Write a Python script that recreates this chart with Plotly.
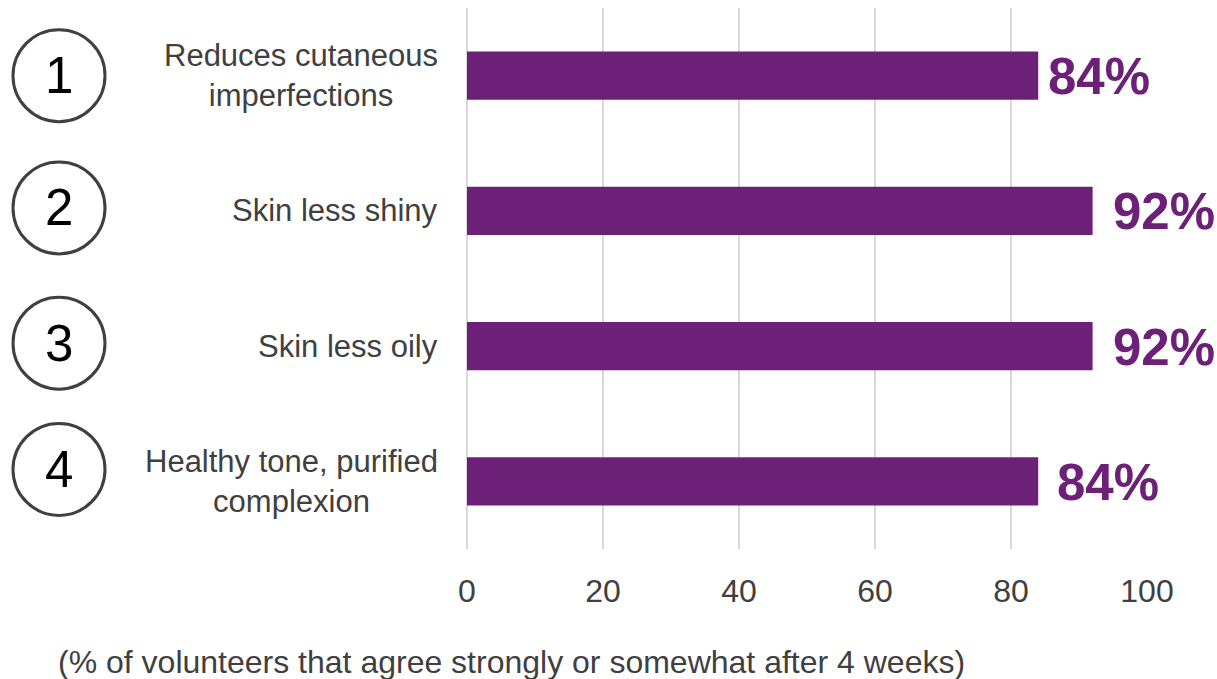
import plotly.graph_objects as go

categories = ["Reduces cutaneous<br>imperfections", "Skin less shiny", "Skin less oily",
              "Healthy tone, purified<br>complexion"]
numbers = ["1", "2", "3", "4"]
values = [84, 92, 92, 84]
x_ticks = [0, 20, 40, 60, 80, 100]
caption = "(% of volunteers that agree strongly or somewhat after 4 weeks)"

PURPLE = "#6C2077"
GREY_TXT = "#404040"
FONT = "Liberation Sans, Arial, sans-serif"

W, H = 1217, 679
L, R, T, B = 467, 70, 8, 130
plot_w = W - L - R
plot_h = H - T - B

def px_to_paper_x(px):
    return (px - L) / plot_w

def px_to_paper_y(py):
    return (H - B - py) / plot_h

fig = go.Figure()
fig.add_trace(go.Bar(
    x=values, y=categories, orientation="h",
    marker=dict(color=PURPLE, line=dict(width=0)),
    hoverinfo="skip", showlegend=False,
))

annotations = []
shapes = []
label_shifts = [8, 18, 18, 17]
circle_yshift = [0, 3, 3, 12]
for i, (cat, num, val) in enumerate(zip(categories, numbers, values)):
    # value label
    annotations.append(dict(
        x=val, y=cat, xref="x", yref="y", xanchor="left", yanchor="middle",
        xshift=label_shifts[i], yshift=-1, text=f"<b>{val}%</b>", showarrow=False,
        font=dict(family=FONT, size=51, color=PURPLE),
    ))
    # category label
    annotations.append(dict(
        x=px_to_paper_x(440), y=cat, xref="paper", yref="y", xanchor="right",
        yanchor="middle", align="center", text=cat, showarrow=False,
        font=dict(family=FONT, size=31, color=GREY_TXT),
    ))
    # circled number
    shapes.append(dict(
        type="circle", xref="paper", yref="y", xsizemode="pixel", ysizemode="pixel",
        xanchor=px_to_paper_x(59), yanchor=cat,
        x0=-46, x1=46, y0=-46 + circle_yshift[i], y1=46 + circle_yshift[i],
        line=dict(color=GREY_TXT, width=3), fillcolor="rgba(0,0,0,0)",
    ))
    annotations.append(dict(
        x=px_to_paper_x(59), y=cat, xref="paper", yref="y", xanchor="center",
        yanchor="middle", yshift=circle_yshift[i], text=num, showarrow=False,
        font=dict(family=FONT, size=51, color="black"),
    ))

annotations.append(dict(
    x=px_to_paper_x(56), y=px_to_paper_y(662), xref="paper", yref="paper",
    xanchor="left", yanchor="middle", text=caption, showarrow=False,
    font=dict(family=FONT, size=32, color=GREY_TXT),
))

fig.update_layout(
    width=W, height=H,
    margin=dict(l=L, r=R, t=T, b=B, pad=0),
    paper_bgcolor="white", plot_bgcolor="white",
    bargap=0.645,
    annotations=annotations, shapes=shapes,
    xaxis=dict(
        range=[0, 100], tickvals=x_ticks, showgrid=True, gridcolor="#d9d9d9",
        gridwidth=1.5, zeroline=True, zerolinecolor="#d9d9d9", zerolinewidth=1.5,
        showline=False, ticks="", ticklabelstandoff=20,
        tickfont=dict(family=FONT, size=32, color=GREY_TXT), fixedrange=True,
    ),
    yaxis=dict(
        type="category", categoryorder="array", categoryarray=categories,
        autorange="reversed", showticklabels=False, showgrid=False,
        zeroline=False, showline=False, ticks="", fixedrange=True,
    ),
    font=dict(family=FONT),
)

fig.write_html("out.html", config={"displayModeBar": False})
